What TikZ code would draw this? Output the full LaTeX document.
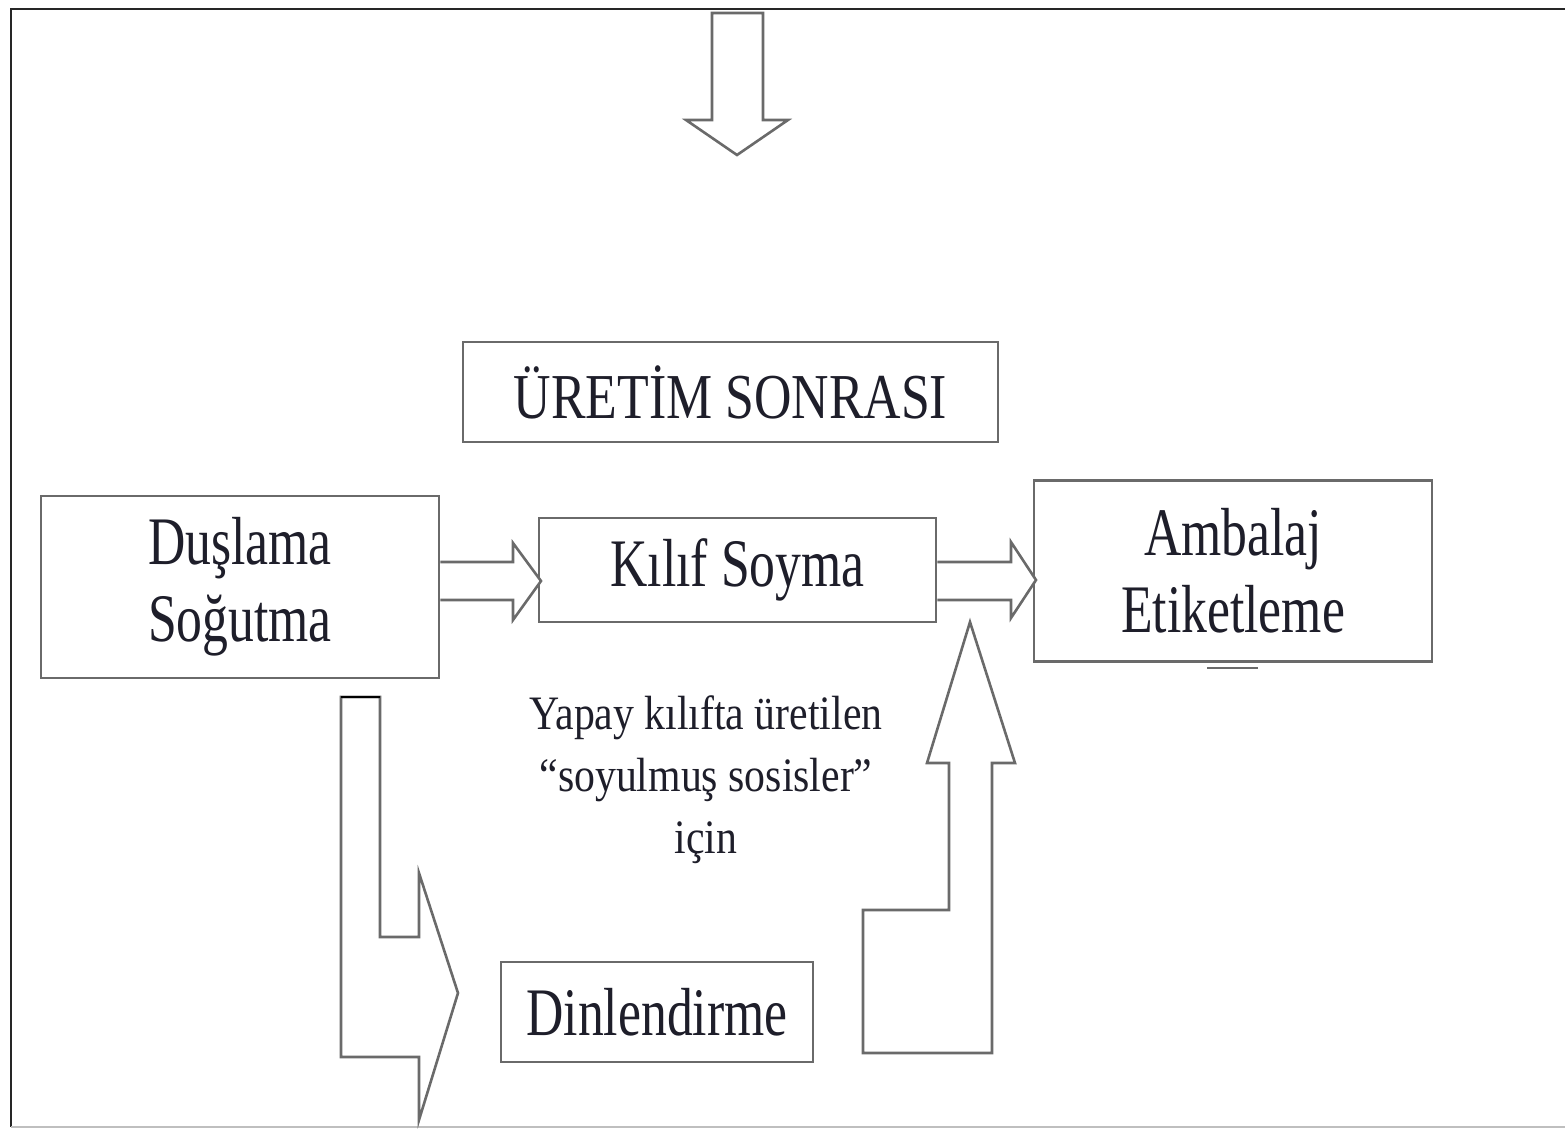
\documentclass[tikz,border=0pt]{standalone}
\usepackage{fontspec}
\setmainfont{Liberation Serif}
\newfontfamily\boxfont{Liberation Serif}[FakeStretch=0.76]
\newfontfamily\titlefont{Liberation Serif}[FakeStretch=0.81]
\newfontfamily\notefont{Liberation Serif}[FakeStretch=0.87]
\definecolor{edgegray}{HTML}{6A6A6A}
\definecolor{inkc}{HTML}{1E1E2A}
\begin{document}
\begin{tikzpicture}[x=0.5pt,y=-0.5pt,
  stepbox/.style={draw=edgegray,line width=1.4pt,fill=white,inner sep=0pt,
    align=center,text=inkc,font=\boxfont\fontsize{34}{38.5}\selectfont},
  blockarrow/.style={draw=edgegray,line width=1.3pt,line join=miter,fill=white},
  frame/.style={draw=black!85,line width=1.4pt}]
\useasboundingbox (0,0) rectangle (1565,1129);
\draw[frame] (1600,9) -- (11,9) -- (11,1127);
\draw[draw=black!25,line width=1pt] (11,1127) -- (1600,1127);

% top arrow
\draw[blockarrow] (712,13) -- (712,120) -- (686,120) -- (737,155) -- (788,120) -- (763,120) -- (763,13) -- cycle;

% boxes
\node[stepbox,minimum width=267.5pt,minimum height=50pt,
  font=\titlefont\fontsize{32}{36}\selectfont] (title) at (730.5,392) {ÜRETİM SONRASI};
\node[stepbox,minimum width=199pt,minimum height=91pt] (dus) at (240,587) {Duşlama\\Soğutma};
\node[stepbox,minimum width=198.5pt,minimum height=52pt] (kilif) at (737.5,570) {Kılıf Soyma};
\node[stepbox,minimum width=199pt,minimum height=90.5pt] (amb) at (1233,571) {Ambalaj\\Etiketleme};
\node[stepbox,minimum width=156pt,minimum height=50pt] (din) at (657,1012) {Dinlendirme};

\coordinate (ambmark) at (1207,668);
\draw[draw=edgegray,line width=1.2pt] (ambmark) -- ++(51,0);

% horizontal block arrows
\draw[blockarrow] (dus.east |- 0,562) -- (513,562) -- (513,543) -- (541,581) -- (513,620) -- (513,600) -- (dus.east |- 0,600);
\draw[blockarrow] (kilif.east |- 0,562) -- (1011,562) -- (1011,542) -- (1036,580) -- (1011,618) -- (1011,600) -- (kilif.east |- 0,600);

% bent down-right arrow
\draw[blockarrow] (341,697) -- (380,697) -- (380,937) -- (419,937) -- (419,873) -- (458,993) -- (419,1120) -- (419,1057) -- (341,1057) -- cycle;
\draw[black,line width=1.4pt] (341,697) -- (380,697);

% bent up arrow
\draw[blockarrow] (970,622) -- (1015,763) -- (992,763) -- (992,1053) -- (863,1053) -- (863,910) -- (949,910) -- (949,763) -- (927,763) -- cycle;

% note
\node[align=center,text=inkc,inner sep=0pt,font=\notefont\fontsize{24}{31}\selectfont] (note) at (706,780)
  {Yapay kılıfta üretilen\\“soyulmuş sosisler”\\için};
\end{tikzpicture}
\end{document}
